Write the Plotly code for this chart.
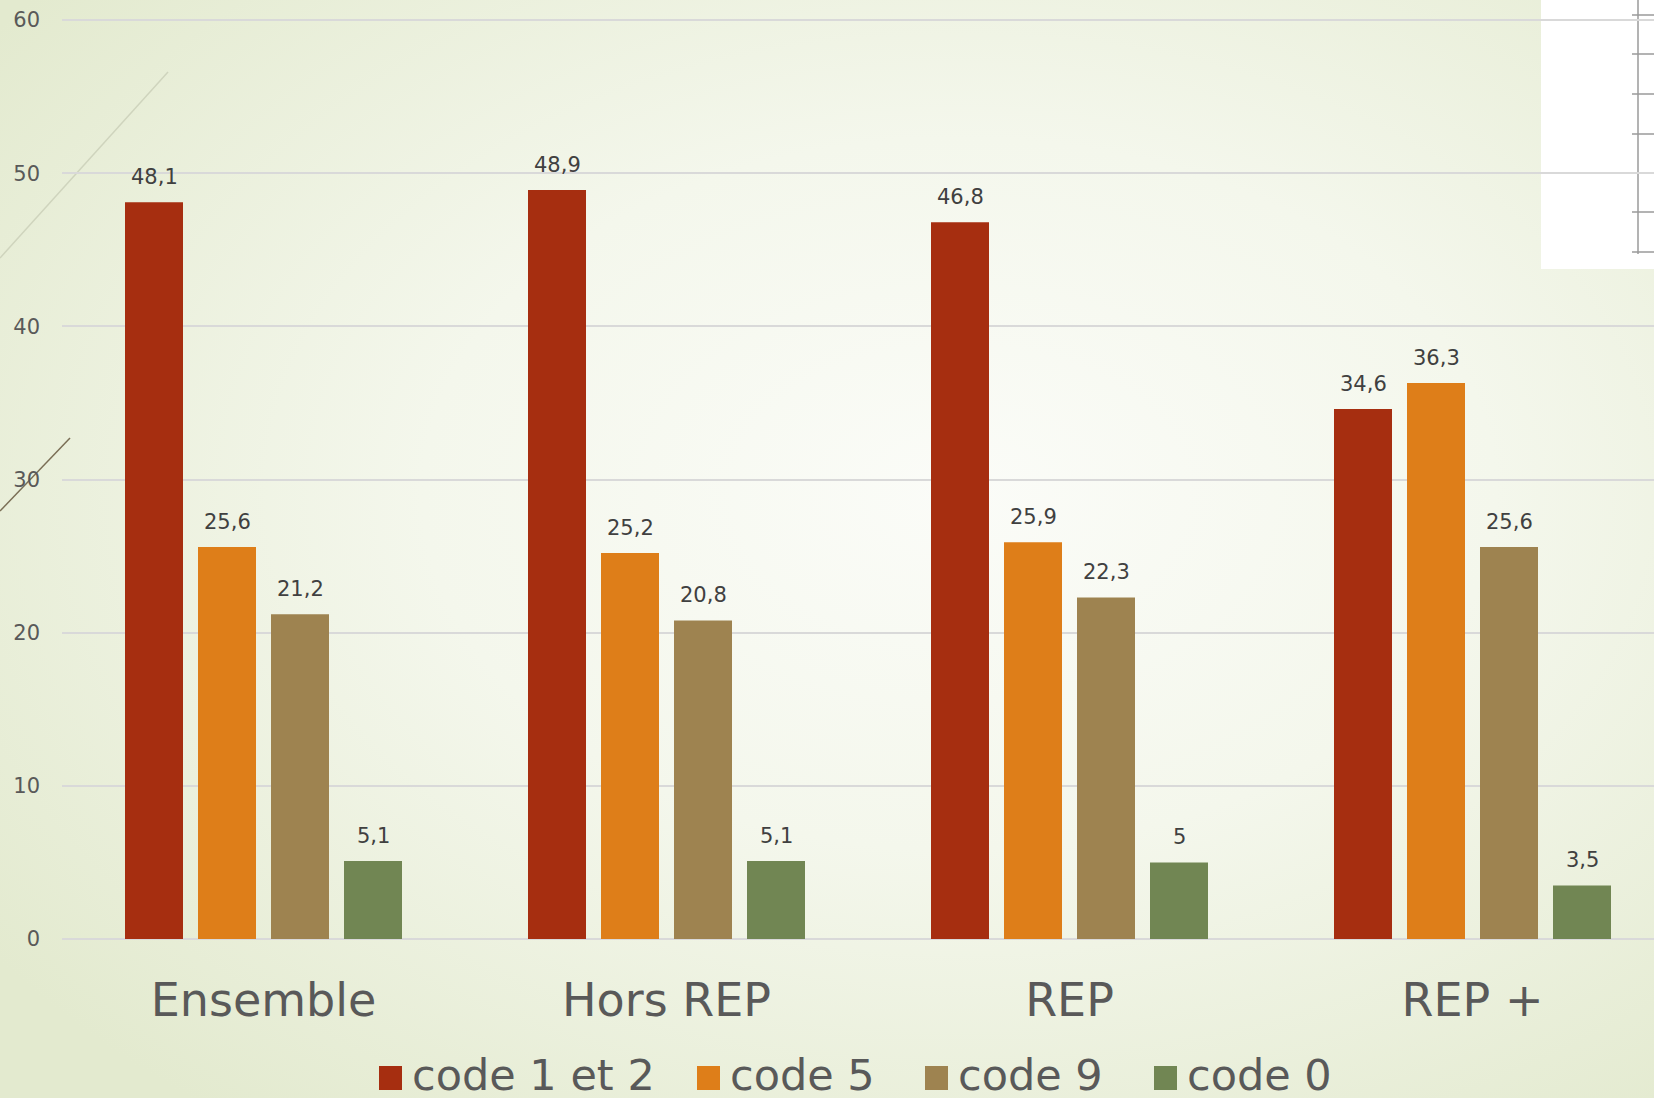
import base64
import plotly.graph_objects as go

categories = ["Ensemble", "Hors REP", "REP", "REP +"]
series_names = ["code 1 et 2", "code 5", "code 9", "code 0"]
code_1_et_2 = [48.1, 48.9, 46.8, 34.6]
code_5 = [25.6, 25.2, 25.9, 36.3]
code_9 = [21.2, 20.8, 22.3, 25.6]
code_0 = [5.1, 5.1, 5.0, 3.5]
y_ticks = [0, 10, 20, 30, 40, 50, 60]

series_values = [code_1_et_2, code_5, code_9, code_0]
colors = ["#A62E10", "#DE7E19", "#9E8350", "#718653"]

W, H = 1654, 1098
ML, MR, MT, MB = 62, 0, 17, 159
PW, PH = W - ML - MR, H - MT - MB
Y_TOP = 60 + 3 * 60 / 919.0  # a little headroom so the 60 gridline is drawn
BAND = 403.0                 # pixel width of one category band
SLOT = 73.0                  # pixel pitch of bars inside a group

FONT = "'DejaVu Sans', sans-serif"


def fmt(v):
    return ("%g" % v).replace(".", ",")


# decorative background (gradient + slide remnants)
ticks_svg = "".join(
    "<line x1='1632' y1='%d' x2='1654' y2='%d' stroke='#9a9a9a' stroke-width='1.5'/>" % (t, t)
    for t in [15, 54, 94, 134, 173, 212, 252]
)
svg = (
    "<svg xmlns='http://www.w3.org/2000/svg' width='%d' height='%d'>" % (W, H)
    + "<defs><radialGradient id='g' cx='0.58' cy='0.45' r='0.72'>"
    "<stop offset='0' stop-color='#fbfcf8'/><stop offset='0.45' stop-color='#f4f7ec'/>"
    "<stop offset='1' stop-color='#e3eacf'/></radialGradient></defs>"
    "<rect width='%d' height='%d' fill='url(#g)'/>" % (W, H)
    + "<line x1='0' y1='258' x2='168' y2='72' stroke='#cfd4bd' stroke-width='1.5'/>"
    "<line x1='0' y1='511' x2='70' y2='438' stroke='#7a6e55' stroke-width='1.5'/>"
    "<rect x='1541' y='0' width='113' height='269' fill='#ffffff'/>"
    "<line x1='1638' y1='0' x2='1638' y2='254' stroke='#9a9a9a' stroke-width='1.5'/>"
    + ticks_svg
    + "</svg>"
)
svg_uri = "data:image/svg+xml;base64," + base64.b64encode(svg.encode()).decode()

fig = go.Figure()
annotations = []
n = len(series_names)
for i, (name, vals, col) in enumerate(zip(series_names, series_values, colors)):
    fig.add_trace(go.Bar(
        x=categories, y=vals, name=name,
        marker=dict(color=col, line=dict(width=0)),
        showlegend=False, hoverinfo="x+y+name",
    ))
    # value labels placed above each bar through the axes
    for cat, v in zip(categories, vals):
        annotations.append(dict(
            xref="x", yref="y", x=cat, y=v, text=fmt(v), showarrow=False,
            xanchor="center", yanchor="bottom",
            xshift=(i - (n - 1) / 2.0) * SLOT, yshift=11,
            font=dict(size=21, color="#404040", family=FONT)))


def px_x(px):
    return (px - ML) / PW


def px_y(py):
    return (H - MB - py) / PH


# custom legend (larger swatches as in the reference)
legend_left = [379, 697, 925, 1154]
shapes = []
for name, col, lx in zip(series_names, colors, legend_left):
    shapes.append(dict(type="rect", xref="paper", yref="paper",
                       x0=px_x(lx), x1=px_x(lx + 23), y0=px_y(1090), y1=px_y(1066),
                       fillcolor=col, line=dict(width=0), layer="above"))
    annotations.append(dict(xref="paper", yref="paper", x=px_x(lx + 31), y=px_y(1075),
                            xanchor="left", yanchor="middle", text=name, showarrow=False,
                            font=dict(size=43, color="#595959", family=FONT)))

fig.update_layout(
    width=W, height=H, autosize=False,
    margin=dict(l=ML, r=MR, t=MT, b=MB, pad=0),
    paper_bgcolor="rgba(0,0,0,0)", plot_bgcolor="rgba(0,0,0,0)",
    font=dict(family=FONT, color="#595959"),
    barmode="group", bargap=1 - n * SLOT / BAND, bargroupgap=15 / SLOT,
    showlegend=False,
    images=[dict(source=svg_uri, xref="paper", yref="paper",
                 x=-ML / PW, y=1 + MT / PH, sizex=W / PW, sizey=H / PH,
                 xanchor="left", yanchor="top", sizing="stretch", layer="below")],
    shapes=shapes, annotations=annotations,
    xaxis=dict(type="category", range=[-0.5, -0.5 + PW / BAND], showgrid=False,
               showline=False, ticks="", tickfont=dict(size=46, color="#595959"),
               ticklabelstandoff=30),
    yaxis=dict(range=[0, Y_TOP], tickvals=y_ticks, ticktext=[str(t) for t in y_ticks],
               showgrid=True, gridcolor="#d9d9d9", gridwidth=2,
               zeroline=True, zerolinecolor="#d9d9d9", zerolinewidth=2,
               showline=False, ticks="", tickfont=dict(size=21, color="#595959"),
               ticklabelstandoff=21),
)

fig.write_html("out.html", config={"displayModeBar": False},
               post_script="document.body.style.margin='0';document.body.style.overflow='hidden';")
